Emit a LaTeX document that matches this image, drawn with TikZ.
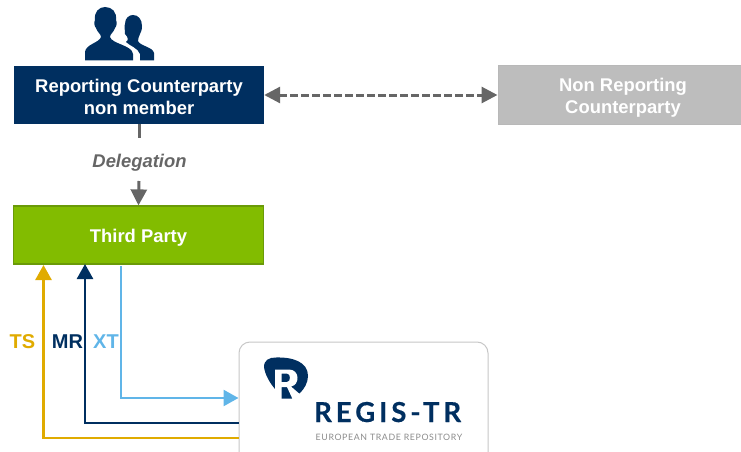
\documentclass[tikz,border=0pt]{standalone}
\usepackage{fontspec}
\setmainfont{Liberation Sans}
\newfontfamily\logofont[LetterSpace=14.5,FakeBold=0.5]{Lato Bold}
\newfontfamily\tagfont[LetterSpace=7]{Lato}
\usetikzlibrary{arrows.meta}
\definecolor{navy}{HTML}{002F60}
\definecolor{leaf}{HTML}{82BC00}
\definecolor{leafedge}{HTML}{6A9A08}
\definecolor{greybox}{HTML}{BDBDBD}
\definecolor{greyline}{HTML}{666666}
\definecolor{sky}{HTML}{60B5E8}
\definecolor{gold}{HTML}{E0AB00}
\newcommand{\topgap}{\rule{0pt}{18pt}}
\tikzset{
  boxtext/.style={font=\fontsize{18.4}{22}\selectfont\bfseries,text=white,align=center,inner sep=0pt,minimum height=58,minimum width=250},
  navybox/.style={boxtext,fill=navy},
  greenbox/.style={boxtext,fill=leaf,draw=leafedge,line width=1.2pt},
  greyboxst/.style={boxtext,fill=greybox,draw=black!28,line width=1pt},
  flow/.style={line width=2.5pt,-{Triangle[length=15pt,width=16pt]}},
  grey/.style={greyline,line width=3pt},
  tag/.style={font=\fontsize{20}{22}\selectfont\bfseries,inner sep=0pt}
}
\begin{document}
\begin{tikzpicture}[x=1pt,y=-1pt]
\useasboundingbox (0,0) rectangle (741,452);
% people icon
\fill[navy] (125,34) .. controls (125,30) and (124,26) .. (125,24) .. controls (125,18) and (129,15) .. (133,15) .. controls (138,15) and (142,19) .. (142,26) .. controls (142,30) and (141,32) .. (140,34) .. controls (139,37) and (138,38) .. (138,41) .. controls (140,46) and (153,47) .. (154,53) -- (154,60.5) -- (140,60.5) -- (140,54) .. controls (138,48) and (130,46) .. (126,42) .. controls (129,40) and (128,37) .. (125,34) -- cycle;
\fill[navy] (85,60.5) -- (85,52) .. controls (86,44) and (99,43) .. (101,37) .. controls (101,34) and (97,32) .. (96,28) .. controls (94,26) and (94,22) .. (95,20) .. controls (94,12) and (99,7) .. (105,7) .. controls (112,7) and (117,12) .. (116,20) .. controls (117,22) and (117,26) .. (115,28) .. controls (114,32) and (110,34) .. (110,37) .. controls (112,44) and (132,45) .. (133,54) -- (133,60.5) -- cycle;
% boxes
\node[navybox] (rc) at (139,95) {\topgap Reporting Counterparty\\non member};
\node[greyboxst,minimum width=250] (nr) at (623,95) {\topgap Non Reporting\\Counterparty};
\node[greenbox] (tp) at (138.5,235) {\topgap Third Party};
\node[font=\fontsize{18.4}{20}\selectfont\bfseries\itshape,text=greyline,inner sep=0pt] (del) at (139.5,163) {Delegation};
% regis box
\begin{scope}
\clip (230,335) rectangle (500,452);
\node[draw=black!22,fill=white,line width=1pt,rounded corners=11pt,minimum width=249,minimum height=130,inner sep=0pt] (regis) at (363.5,407) {};
\end{scope}
% logo
\fill[navy] (264,367) .. controls (264,360) and (269,357.5) .. (276,357.5) .. controls (293,357) and (308,362) .. (308,376) .. controls (308,383) and (304,389) .. (300,393) -- (292,398.5) -- (281,398.5) -- (275,389) .. controls (270,383) and (265,375) .. (264,367) -- cycle;
\fill[white,even odd rule] (275,369.5) -- (289,369.5) .. controls (300,369.5) and (300,385) .. (291,386.5) -- (302,396) -- (293,400) -- (287,387) -- (281.5,387) -- (281.5,400) -- (275,400) -- cycle
 (281.7,373.5) -- (287,373.5) .. controls (291,373.5) and (291,382) .. (287,382) -- (281.7,382) -- cycle;
\node[anchor=base west,inner sep=0pt,text=navy] (lg) at (314,422) {\fontsize{27.5}{30}\logofont REGIS-TR};
\node[anchor=base west,inner sep=0pt,text=black!45] (tg) at (315.5,440) {\fontsize{8.8}{10}\tagfont EUROPEAN TRADE REPOSITORY};
% connectors
\coordinate (xa) at (121,266);
\coordinate (xb) at (121,398);
\coordinate (ma) at (85,264);
\coordinate (mb) at (85,423);
\coordinate (ta) at (43.5,265);
\coordinate (tb) at (43.5,438);
\coordinate (da) at (139,138);
\coordinate (db) at (139,181);
\draw[sky,flow] (xa) -- (xb) -- (xb -| regis.west);
\draw[navy,flow] (mb -| regis.west) -- (mb) -- (ma);
\draw[gold,flow] (tb -| regis.west) -- (tb) -- (ta);
\draw[grey] (rc.south) -- (da);
\draw[grey,-{Triangle[length=16pt,width=16pt]}] (db) -- (tp.north);
\draw[grey,dash pattern=on 8pt off 3pt,{Triangle[length=16pt,width=16pt]}-{Triangle[length=16pt,width=16pt]}] (rc.east) -- (nr.west);
% labels
\node[tag,text=gold] (ts) at (22.5,342) {TS};
\node[tag,text=navy] (mr) at (67.5,342) {MR};
\node[tag,text=sky] (xt) at (106,342) {XT};
\end{tikzpicture}
\end{document}
